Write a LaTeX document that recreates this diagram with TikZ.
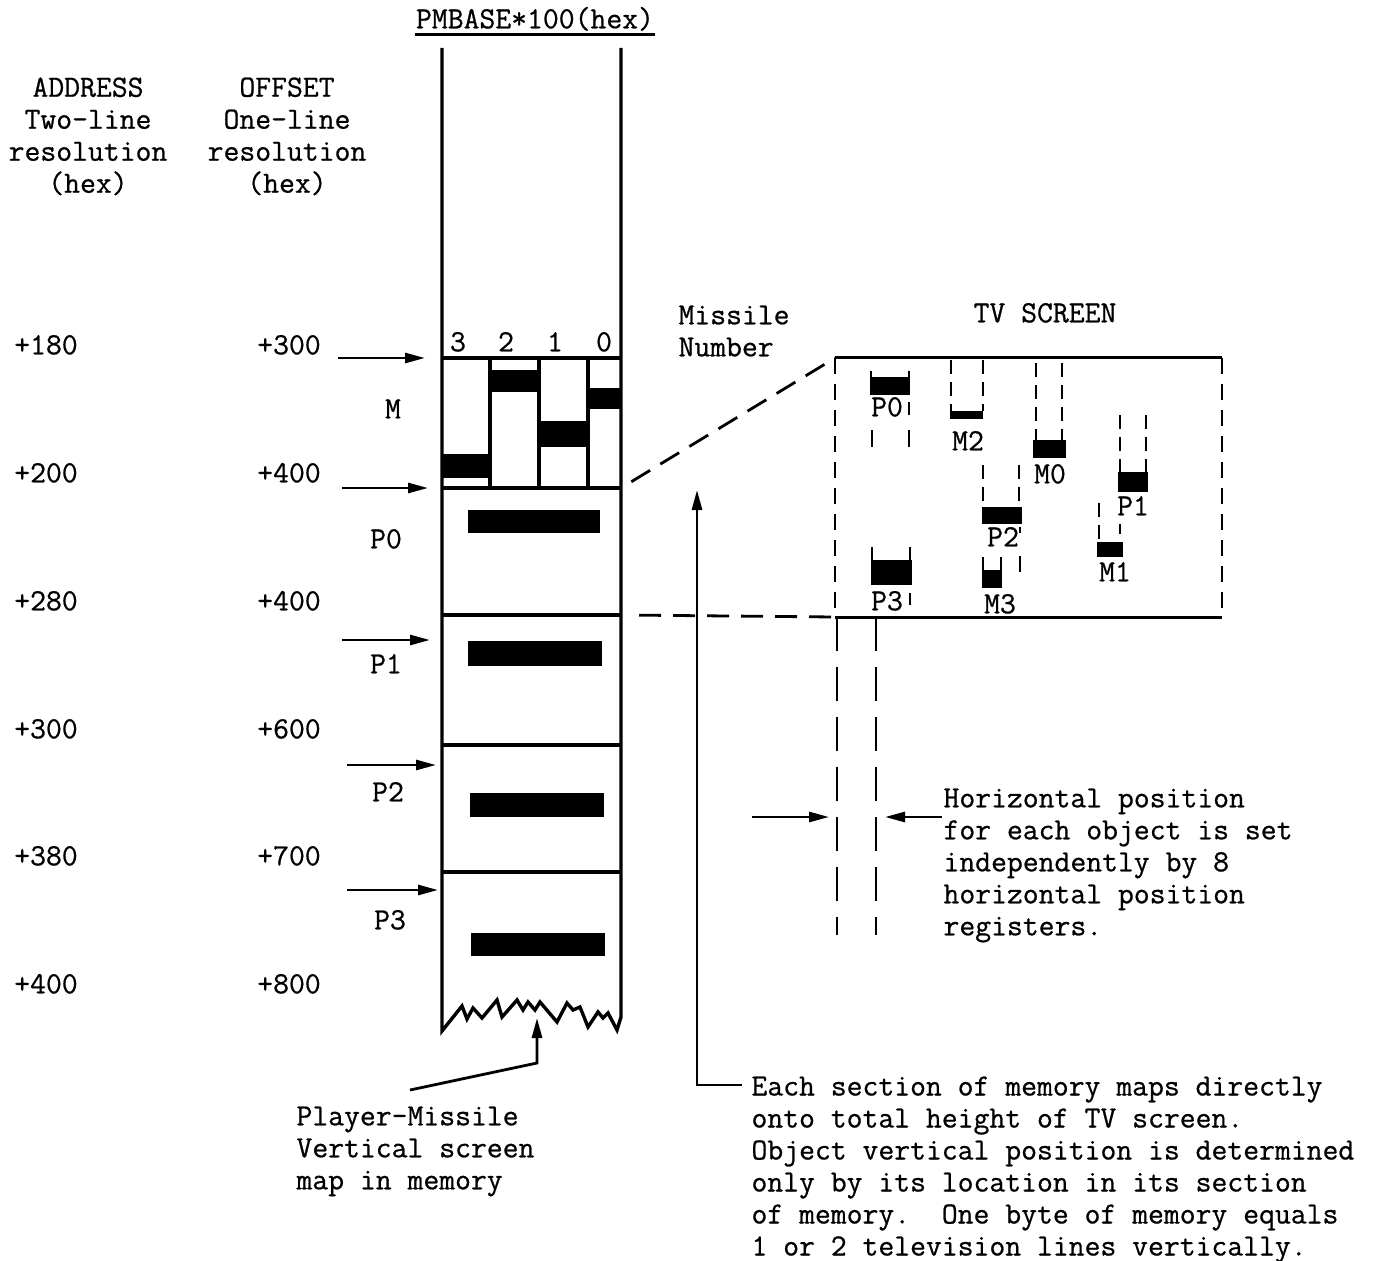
\documentclass[tikz,border=0pt]{standalone}
\usepackage{fontspec}
\setmonofont{Latin Modern Mono}[FakeBold=0.7]
\usepackage{tikz}
\usetikzlibrary{arrows.meta,positioning}

\begin{document}
\begin{tikzpicture}[
  x=0.5pt, y=-0.5pt,
  font=\fontsize{15.4}{16}\selectfont\ttfamily,
  line width=1.5pt,
  txt/.style={inner sep=0pt, anchor=mid, yshift=-2pt},
  para/.style={inner sep=0pt, anchor=north west, align=left},
  colhead/.style={inner sep=0pt, anchor=north, align=center},
  memline/.style={line width=1.7pt},
  bar/.style={fill=black},
  ptr/.style={-{Triangle[length=10pt,width=5pt]}, line width=1.4pt},
  proj/.style={dash pattern=on 11pt off 6pt, line width=1.4pt},
  tvside/.style={dash pattern=on 8pt off 5pt, line width=1.4pt},
  guide/.style={dash pattern=on 17pt off 8pt, line width=1.4pt},
  trail/.style={dash pattern=on 7pt off 4pt, line width=1.2pt},
  tick/.style={line width=1.2pt}
]
\useasboundingbox (0,0) rectangle (1384,1261);

% headings
\node[txt] (pmbase) at (535,20) {PMBASE*100(hex)};
\draw[line width=1.2pt] ([yshift=-1pt]pmbase.south west) -- ([yshift=-1pt]pmbase.south east);
\node[colhead] (addrhead) at (88,76) {ADDRESS\\Two-line\\resolution\\(hex)};
\node[colhead] (offhead) at (287,76) {OFFSET\\One-line\\resolution\\(hex)};

\foreach \yy/\adr/\off [count=\i] in {346/+180/+300, 474/+200/+400, 602/+280/+400,
    730/+300/+600, 857/+380/+700, 985/+400/+800}{
  \node[txt] (adr\i) at (46,\yy) {\adr};
  \node[txt] (off\i) at (289,\yy) {\off};
}

% memory map
\draw[memline] (442,48) -- (442,1031)
  -- (462,1006) -- (467,1019) -- (473,1008) -- (482,1018) -- (497,1000)
  -- (502,1017) -- (517,1000) -- (523,1010) -- (528,1002) -- (535,1010)
  -- (540,1002) -- (557,1022) -- (567,1003) -- (573,1010) -- (580,1007)
  -- (588,1027) -- (598,1012) -- (603,1018) -- (608,1013) -- (617,1030)
  -- (621,1017) -- (621,48);
\foreach \yy in {358,488,615,745,872}
  \draw[memline] (442,\yy) -- (621,\yy);
\foreach \xx in {490,539,588}
  \draw[memline] (\xx,358) -- (\xx,488);
\coordinate (memP0) at (621,488);
\coordinate (memP1) at (621,615);

\foreach \xx/\d in {458/3, 506/2, 555/1, 604/0}
  \node[txt] (mis\d) at (\xx,343) {\d};

% missile bytes
\fill[bar] (442,454) rectangle (490,478);
\fill[bar] (490,370) rectangle (539,392);
\fill[bar] (539,421) rectangle (588,447);
\fill[bar] (588,388) rectangle (621,409);
% player bytes
\fill[bar] (468,510) rectangle (600,533);
\fill[bar] (468,641) rectangle (602,666);
\fill[bar] (470,793) rectangle (604,817);
\fill[bar] (471,933) rectangle (605,956);

\foreach \xx/\yy/\sec in {393/410/M, 386/540/P0, 386/665/P1, 388/793/P2, 390/921/P3}
  \node[txt] (sec\sec) at (\xx,\yy) {\sec};

\foreach \ty/\tx/\hx [count=\i] in {358/338/425, 488/342/428, 640/342/430,
    765/347/436, 890/347/438}{
  \coordinate (tail\i) at (\tx,\ty);
  \coordinate (tip\i) at (\hx,\ty);
  \draw[ptr] (tail\i) -- (tip\i);
}

\node[para] (misnum) at (677,304) {Missile\\Number};
\node[txt] (tvtitle) at (1045,314) {TV SCREEN};

% TV screen
\coordinate (tvTL) at (835,358);
\coordinate (tvTR) at (1222,358);
\coordinate (tvBL) at (835,617);
\coordinate (tvBR) at (1222,617);
\draw (tvTL) -- (tvTR);
\draw (tvBL) -- (tvBR);
\draw[tvside] (tvTL) -- (tvBL);
\draw[tvside] (tvTR) -- (tvBR);
\draw[proj, shorten <=6pt] (memP0) -- (tvTL);
\draw[proj, shorten <=9pt] (memP1) -- (tvBL);

% objects on the screen
\fill[bar] (870,377) rectangle (910,395);
\fill[bar] (950,411) rectangle (983,419);
\fill[bar] (1033,440) rectangle (1066,458);
\fill[bar] (1118,472) rectangle (1148,492);
\fill[bar] (1097,542) rectangle (1123,557);
\fill[bar] (982,507) rectangle (1022,524);
\fill[bar] (871,560) rectangle (912,585);
\fill[bar] (982,570) rectangle (1002,588);

\node[txt] (objP0) at (887,408) {P0};
\node[txt] (objM2) at (968,442) {M2};
\node[txt] (objM0) at (1050,475) {M0};
\node[txt] (objP1) at (1133,507) {P1};
\node[txt] (objM1) at (1115,573) {M1};
\node[txt] (objP2) at (1003,538) {P2};
\node[txt] (objP3) at (887,602) {P3};
\node[txt] (objM3) at (1000,605) {M3};

% movement trails
\draw[tick] (871,371) -- (871,377) (909,371) -- (909,377);
\draw[tick] (909,402) -- (909,415);
\draw[tick] (872,430) -- (872,447) (909,430) -- (909,447);
\draw[trail] (951,360) -- (951,411) (983,360) -- (983,411);
\draw[trail] (1036,363) -- (1036,440) (1062,363) -- (1062,440);
\draw[trail] (983,465) -- (983,507) (1019,465) -- (1019,507);
\draw[tick] (1020,527) -- (1020,533) (1020,556) -- (1020,572);
\draw[tick] (983,557) -- (983,570) (1001,557) -- (1001,570);
\draw[trail] (1120,415) -- (1120,472) (1146,415) -- (1146,472);
\draw[trail] (1099,503) -- (1099,542);
\draw[tick] (1120,524) -- (1120,534);
\draw[tick] (872,547) -- (872,560) (910,547) -- (910,560);
\draw[tick] (910,593) -- (910,605);

% horizontal position guides
\coordinate (guideA) at (837,935);
\coordinate (guideB) at (876,935);
\draw[guide] (tvBL -| guideA) -- (guideA);
\draw[guide] (tvBL -| guideB) -- (guideB);
\coordinate (hleft) at (752,817);
\coordinate (hright) at (942,817);
\draw[ptr] (hleft) -- (hleft -| 829,0);
\draw[ptr] (hright) -- (hright -| 885,0);
\node[para] (hpos) at (942,787) {Horizontal position\\for each object is set\\independently by 8\\horizontal position\\registers.};

% notes
\node[para] (secnote) at (750,1075) {Each section of memory maps directly\\onto total height of TV screen.\\Object vertical position is determined\\only by its location in its section\\of memory.\ \ One byte of memory equals\\1 or 2 television lines vertically.};
\coordinate (notestart) at (742,1085);
\coordinate (noteelbow) at (697,1085);
\coordinate (notetip) at (697,490);
\draw[ptr] (notestart) -- (noteelbow) -- (notetip);

\node[para] (pmnote) at (295,1105) {Player-Missile\\Vertical screen\\map in memory};
\coordinate (pmstart) at (410,1090);
\coordinate (pmbend) at (537,1063);
\coordinate (pmtip) at (537,1018);
\draw[ptr] (pmstart) -- (pmbend) -- (pmtip);
\end{tikzpicture}
\end{document}
